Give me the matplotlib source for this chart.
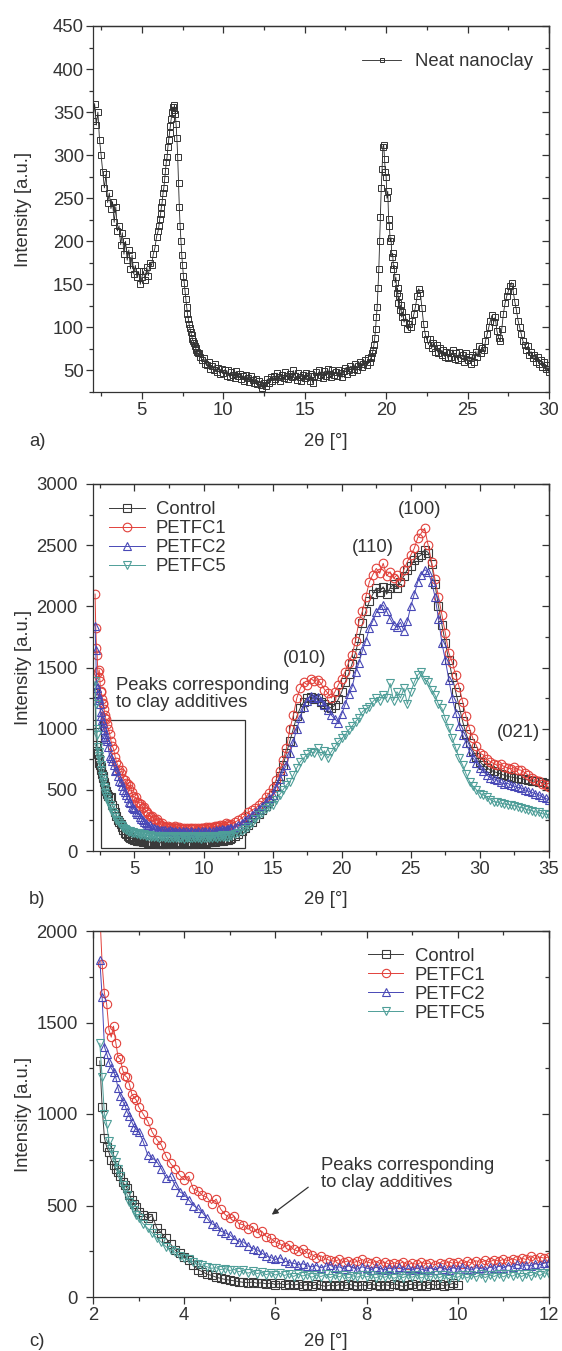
import numpy as np
import matplotlib
matplotlib.use("Agg")
import matplotlib.pyplot as plt
from matplotlib.ticker import MultipleLocator
from matplotlib.patches import Rectangle

plt.rcParams['font.family'] = ['Liberation Sans', 'DejaVu Sans']

# ---------------- data: panel a (neat nanoclay) ----------------
# intensity values, stored per 2theta segment (start, step)
CLAY_A = [340, 360, 335, 350, 318, 300, 280, 262, 278, 245,
          256, 238, 246, 222, 240, 212, 218, 196, 210, 185,
          200, 178, 190, 168, 184, 162, 172, 158, 165, 150,
          158, 165, 155, 170, 160, 175, 172, 185, 192, 205]          # 2.0-5.9, 0.1
CLAY_B = [212, 218, 226, 232, 240, 246, 256, 262, 272, 282,
          292, 298, 310, 318, 326, 334, 342, 350, 356, 352,
          358, 348, 336, 320, 298, 268, 240, 218, 200, 184,
          172, 160, 152, 142, 133, 124, 116, 110, 104, 99,
          95, 91, 87, 84, 82, 78, 76, 74, 72, 70]                    # 6.0-8.45, 0.05
CLAY_C = [70, 66, 62, 64, 58,
          56, 60, 52, 55, 50, 57, 48, 53, 46, 52,
          47, 51, 44, 50, 42, 48, 45, 41, 49, 43,
          46, 40, 44, 38, 45, 41, 37, 43, 39, 36,
          40, 34, 38, 33, 30, 36, 32, 40, 35, 42,
          38, 44, 40, 47, 42, 38, 45, 41, 48, 43,
          40, 46, 42, 50, 44, 39, 47, 42, 38, 45,
          41, 47, 43, 38, 46, 35, 44, 48, 42, 50,
          45, 41, 49, 44, 52, 46, 42, 50, 45, 48,
          44, 51, 47, 42, 49, 53, 46, 50, 55, 48,
          52, 57, 50, 55, 60, 54, 58, 62, 56, 64]                    # 8.5-18.9, 0.1
CLAY_D = [60, 64, 66, 70, 74, 80, 88, 98, 112, 124,
          146, 168, 200, 228, 262, 284, 310, 312, 296, 280,
          275, 250, 258, 226, 218, 200, 204, 182, 186, 168,
          172, 152, 158, 140, 146, 128, 136, 120, 126, 112]          # 19.0-20.95, 0.05
CLAY_E = [118, 106, 112, 98, 104, 100, 108, 115, 124, 136,
          145, 140, 122, 104, 92, 86, 80, 86, 76, 82,
          72, 80, 70, 76, 68, 74, 66, 72, 64, 70,
          66, 74, 63, 70, 62, 72, 64, 68, 60, 70,
          62, 66, 58, 68, 60, 72, 66, 78, 70, 76,
          74, 84, 92, 100, 108, 114, 106, 112, 96, 88,
          84, 98, 116, 128, 136, 142, 148, 152, 142, 130,
          120, 108, 100, 92, 84, 80, 74, 78, 68, 72,
          64, 68, 60, 66, 58, 62, 54, 60, 52, 56, 48]                # 21.0-30.0, 0.1

# ---------------- data: panels b and c (films) ----------------
# segments: L = 2.15.. step 0.05, M = 3.0.. step 0.1, H = 12.0.. step 0.25
CTRL_L = [1290, 1040, 870, 820, 790, 750, 721, 700, 685, 660, 630, 610, 594, 560, 530, 510, 490]
CTRL_M = [466, 450, 430, 445, 375, 350, 321, 290, 257, 240,
          220, 200, 175, 150, 138, 125, 118, 108, 102, 96,
          92, 88, 84, 80, 78, 82, 75, 78, 72, 76,
          68, 74, 66, 72, 64, 70, 62, 68, 60, 70,
          64, 58, 66, 60, 68, 62, 70, 64, 58, 66,
          62, 70, 64, 60, 68, 62, 72, 64, 58, 66,
          70, 62, 68, 60, 72, 64, 70, 62, 68, 74,
          66, 72, 68, 76, 70, 78, 72, 80, 74, 82,
          78, 86, 80, 90, 84, 94, 88, 98, 92, 102]
CTRL_H = [110, 125, 140, 160, 185, 210, 240, 270, 300, 335, 370, 410,
          460, 530, 610, 700, 800, 900, 1000, 1100, 1170, 1220, 1250, 1260,
          1240, 1250, 1220, 1200, 1180, 1170, 1190, 1240, 1300, 1380, 1450, 1530,
          1620, 1740, 1860, 1960, 2040, 2100, 2150, 2120, 2160, 2100, 2150, 2180,
          2150, 2200, 2250, 2300, 2330, 2380, 2400, 2420, 2461, 2440, 2350, 2180,
          2000, 1850, 1700, 1560, 1420, 1300, 1180, 1060, 960, 880, 820, 770,
          730, 700, 680, 660, 650, 640, 630, 620, 610, 605, 600, 595,
          590, 585, 580, 575, 570, 565, 560, 555, 550]

PET1_L = [2100, 1820, 1660, 1600, 1460, 1420, 1480, 1390, 1310, 1300, 1240, 1210, 1200, 1160, 1110, 1090, 1076]
PET1_M = [1040, 1000, 960, 900, 860, 830, 770, 730, 700, 665,
          640, 660, 590, 580, 555, 545, 510, 535, 480, 450,
          430, 440, 400, 395, 370, 385, 350, 360, 330, 320,
          300, 290, 275, 285, 260, 250, 262, 240, 232, 215,
          225, 208, 200, 195, 205, 190, 198, 188, 195, 205,
          192, 185, 196, 182, 190, 178, 188, 180, 192, 176,
          185, 178, 190, 182, 186, 175, 188, 180, 192, 184,
          190, 182, 195, 185, 198, 188, 200, 192, 204, 196,
          206, 198, 210, 200, 212, 205, 225, 208, 218, 212]
PET1_H = [220, 235, 250, 268, 290, 315, 335, 350, 376, 400, 440, 475,
          512, 580, 650, 740, 840, 1000, 1110, 1250, 1330, 1380, 1360, 1410,
          1390, 1400, 1370, 1320, 1290, 1250, 1300, 1357, 1410, 1466, 1540, 1602,
          1720, 1880, 1960, 2080, 2200, 2260, 2310, 2270, 2352, 2250, 2283, 2230,
          2256, 2202, 2300, 2365, 2420, 2474, 2560, 2597, 2638, 2501, 2365, 2220,
          2080, 1929, 1780, 1620, 1540, 1440, 1340, 1220, 1100, 1000, 920, 860,
          800, 785, 750, 730, 715, 700, 710, 690, 680, 670, 690, 665,
          660, 640, 620, 600, 580, 570, 550, 540, 520]

PET2_L = [1842, 1640, 1368, 1330, 1286, 1250, 1231, 1200, 1140, 1100, 1070, 1049, 1010, 990, 958, 930, 915]
PET2_M = [903, 850, 776, 760, 739, 700, 650, 660, 610, 575,
          560, 530, 500, 485, 460, 430, 400, 390, 360, 350,
          340, 318, 302, 300, 280, 265, 257, 240, 225, 215,
          205, 215, 196, 188, 184, 176, 182, 170, 165, 172,
          160, 168, 175, 158, 165, 155, 170, 160, 152, 165,
          158, 150, 162, 155, 148, 160, 152, 165, 150, 158,
          148, 160, 152, 145, 158, 150, 162, 154, 148, 160,
          152, 165, 155, 148, 160, 156, 150, 163, 157, 168,
          160, 172, 165, 178, 168, 175, 170, 182, 176, 185]
PET2_H = [190, 200, 215, 232, 250, 270, 295, 320, 345, 370, 400, 430,
          460, 520, 590, 650, 703, 800, 894, 1000, 1090, 1180, 1230, 1270,
          1250, 1260, 1230, 1190, 1150, 1110, 1080, 1050, 1120, 1200, 1280, 1340,
          1460, 1540, 1640, 1720, 1820, 1880, 1950, 1990, 2010, 1960, 1900, 1850,
          1830, 1870, 1800, 1880, 2000, 2100, 2200, 2260, 2300, 2280, 2200, 2080,
          1900, 1700, 1560, 1400, 1250, 1130, 1020, 950, 880, 812, 760, 720,
          680, 650, 620, 600, 590, 580, 560, 550, 553, 540, 530, 520,
          515, 500, 490, 480, 470, 460, 445, 430, 420]

PET5_L = [1386, 1200, 1000, 945, 850, 810, 776, 740, 700, 660, 612, 590, 560, 521, 505, 475, 448]
PET5_M = [430, 400, 375, 350, 321, 300, 275, 257, 245, 225,
          211, 205, 192, 180, 175, 165, 157, 160, 150, 155,
          145, 150, 138, 145, 130, 140, 128, 135, 122, 132,
          120, 130, 118, 126, 112, 125, 115, 122, 108, 120,
          112, 124, 106, 118, 110, 122, 104, 116, 108, 120,
          110, 118, 104, 115, 108, 120, 102, 114, 106, 118,
          108, 120, 104, 116, 110, 122, 106, 118, 100, 115,
          108, 122, 104, 118, 110, 124, 106, 120, 112, 126,
          110, 124, 114, 128, 112, 126, 116, 130, 118, 132]
PET5_H = [125, 140, 150, 165, 180, 200, 230, 260, 294, 310, 340, 360,
          376, 420, 460, 500, 540, 567, 620, 680, 730, 760, 790, 812,
          800, 839, 780, 820, 760, 812, 850, 894, 920, 948, 990, 1020,
          1057, 1090, 1139, 1160, 1180, 1220, 1250, 1230, 1275, 1250, 1370, 1230,
          1302, 1250, 1330, 1200, 1300, 1380, 1439, 1466, 1400, 1384, 1320, 1275,
          1200, 1166, 1080, 1003, 920, 839, 760, 703, 630, 567, 530, 500,
          470, 458, 440, 420, 403, 400, 390, 385, 380, 376, 370, 360,
          355, 345, 335, 330, 320, 315, 305, 300, 295]

SERIES_LABELS = ['Control', 'PETFC1', 'PETFC2', 'PETFC5']
SEG_STARTS = (2.15, 3.0, 12.0)
SEG_STEPS = (0.05, 0.1, 0.25)


def grid(start, step, n):
    return np.round(start + step * np.arange(n), 3)


def build(segments, starts, steps):
    xs = np.concatenate([grid(s, d, len(v)) for v, s, d in zip(segments, starts, steps)])
    ys = np.concatenate([np.asarray(v, float) for v in segments])
    return xs, ys


clay_x, clay_y = build([CLAY_A, CLAY_B, CLAY_C, CLAY_D, CLAY_E],
                       (2.0, 6.0, 8.5, 19.0, 21.0), (0.1, 0.05, 0.1, 0.05, 0.1))
films = [build(s, SEG_STARTS, SEG_STEPS) for s in
         ([CTRL_L, CTRL_M, CTRL_H], [PET1_L, PET1_M, PET1_H],
          [PET2_L, PET2_M, PET2_H], [PET5_L, PET5_M, PET5_H])]

# ---------------- style ----------------
TXT = '#333333'
COLORS = ['#3a3a3a', '#e2413b', '#4848b6', '#4e9e98']
MARKERS = ['s', 'o', '^', 'v']
FS = 13.3

fig = plt.figure(figsize=(5.62, 13.51), dpi=100)
L, W = 93 / 562, 456 / 562
ax_a = fig.add_axes([L, 1 - 392 / 1351, W, 366 / 1351])
ax_b = fig.add_axes([L, 1 - 851 / 1351, W, 367 / 1351])
ax_c = fig.add_axes([L, 1 - 1297 / 1351, W, 366 / 1351])


def style(ax, xlim, ylim, xmaj, xmin, ymaj, ymin, ypad):
    ax.set_xlim(*xlim)
    ax.set_ylim(*ylim)
    for sp in ax.spines.values():
        sp.set_color(TXT)
        sp.set_linewidth(0.9)
    ax.xaxis.set_major_locator(MultipleLocator(xmaj))
    ax.xaxis.set_minor_locator(MultipleLocator(xmin))
    ax.yaxis.set_major_locator(MultipleLocator(ymaj))
    ax.yaxis.set_minor_locator(MultipleLocator(ymin))
    ax.tick_params(which='both', direction='out', color=TXT, labelcolor=TXT,
                   labelsize=FS, width=0.9)
    ax.tick_params(which='major', length=5)
    ax.tick_params(which='minor', length=2.6)
    ax.tick_params(axis='x', pad=2.5)
    ax.tick_params(axis='y', pad=ypad)
    # mirrored inward ticks on top / right
    top = ax.secondary_xaxis('top')
    top.xaxis.set_major_locator(MultipleLocator(xmaj))
    top.xaxis.set_minor_locator(MultipleLocator(xmin))
    top.tick_params(which='both', direction='in', labeltop=False, color=TXT, width=0.9)
    top.tick_params(which='major', length=5)
    top.tick_params(which='minor', length=2.6)
    top.spines['top'].set_color(TXT)
    top.spines['top'].set_linewidth(0.9)
    right = ax.secondary_yaxis('right')
    right.yaxis.set_major_locator(MultipleLocator(ymaj))
    right.yaxis.set_minor_locator(MultipleLocator(ymin))
    right.tick_params(which='both', direction='in', labelright=False, color=TXT, width=0.9)
    right.tick_params(which='major', length=5)
    right.tick_params(which='minor', length=2.6)
    right.spines['right'].set_color(TXT)
    right.spines['right'].set_linewidth(0.9)
    ax.set_ylabel('Intensity [a.u.]', fontsize=FS, color=TXT)
    ax.yaxis.set_label_coords(-0.133, 0.5)


# ---------------- panel a ----------------
style(ax_a, (2, 30), (25, 450), 5, 2.5, 50, 25, 1.5)
ax_a.plot(clay_x, clay_y, color='#222222', lw=0.6, marker='s', ms=4.3,
          mfc='none', mec='#333333', mew=0.7, label='Neat nanoclay')
ax_a.legend(loc='center left', bbox_to_anchor=(0.591, 0.9025), frameon=False,
            fontsize=FS, handlelength=2.1, handletextpad=0.75, borderpad=0,
            borderaxespad=0, labelcolor=TXT, markerscale=0.8)

# ---------------- panel b ----------------
style(ax_b, (2, 35), (0, 3000), 5, 2.5, 500, 250, 6)
for (x, y), lab, c, m in zip(films, SERIES_LABELS, COLORS, MARKERS):
    ax_b.plot(x, y, color=c, lw=0.7, marker=m, ms=6.2, mfc='none', mec=c,
              mew=0.8, label=lab)
ax_b.legend(loc='center left', bbox_to_anchor=(0.036, 0.852), frameon=False,
            fontsize=FS, handlelength=1.92, handletextpad=0.6, borderpad=0,
            borderaxespad=0, labelspacing=0.11, labelcolor=TXT)
ax_b.add_patch(Rectangle((2.6, 27), 10.4, 1043, fill=False, ec=TXT, lw=0.9))
ax_b.text(3.64, 1283, 'Peaks corresponding\nto clay additives', fontsize=FS,
          color=TXT, ha='left', va='center', linespacing=1.0)
for lab, xx, yy in [('(100)', 25.66, 2788), ('(110)', 22.26, 2479),
                    ('(010)', 17.34, 1575), ('(021)', 32.8, 965)]:
    ax_b.text(xx, yy, lab, fontsize=FS, color=TXT, ha='center', va='center')

# ---------------- panel c ----------------
style(ax_c, (2, 12), (0, 2000), 2, 1, 500, 250, 6)
for i, ((x, y), lab, c, m) in enumerate(zip(films, SERIES_LABELS, COLORS, MARKERS)):
    keep = x <= (10.0 if i == 0 else 12.5)
    ax_c.plot(x[keep], y[keep], color=c, lw=0.7, marker=m, ms=6.0, mfc='none',
              mec=c, mew=0.8, label=lab)
ax_c.legend(loc='center left', bbox_to_anchor=(0.603, 0.853), frameon=False,
            fontsize=FS, handlelength=1.92, handletextpad=0.6, borderpad=0,
            borderaxespad=0, labelspacing=0.11, labelcolor=TXT)
ax_c.text(7.0, 672, 'Peaks corresponding\nto clay additives', fontsize=FS,
          color=TXT, ha='left', va='center', linespacing=1.0)
ax_c.annotate('', xy=(5.92, 450), xytext=(6.72, 600),
              arrowprops=dict(arrowstyle='-|>', color=TXT, lw=0.9,
                              mutation_scale=9, shrinkA=0, shrinkB=0))

# ---------------- axis titles and panel letters ----------------
for ax, letter, ypix in [(ax_a, 'a)', 442), (ax_b, 'b)', 900), (ax_c, 'c)', 1342)]:
    fig.text(326 / 562, 1 - ypix / 1351, '2θ [°]', fontsize=FS, color=TXT,
             ha='center', va='center')
    fig.text(37 / 562, 1 - ypix / 1351, letter, fontsize=FS, color=TXT,
             ha='center', va='center')

fig.savefig('out.png', dpi=100)
